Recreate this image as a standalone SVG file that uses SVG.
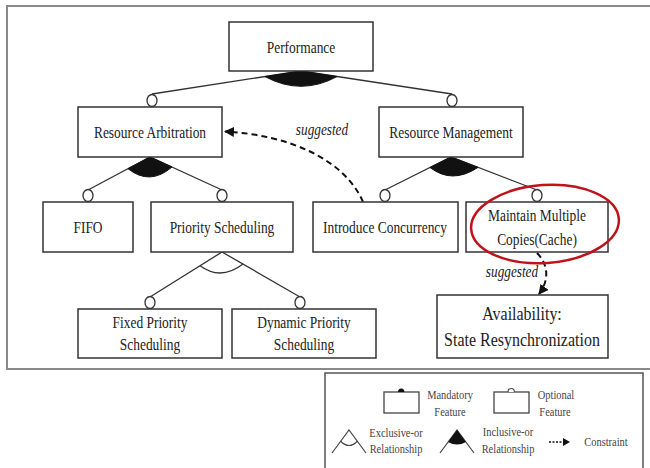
<svg xmlns="http://www.w3.org/2000/svg" width="650" height="468" viewBox="0 0 650 468">
  <style>
    .box { fill: #ffffff; stroke: #333333; stroke-width: 1.5; }
    .lbl { font-family: "Liberation Serif", "Times New Roman", serif; font-size: 17px; fill: #222222; text-anchor: middle; }
    .big { font-size: 19.5px; }
    .sug { font-family: "Liberation Serif", "Times New Roman", serif; font-size: 17px; font-style: italic; fill: #222222; text-anchor: middle; }
    .edge { fill: none; stroke: #333333; stroke-width: 1.3; }
    .opt { fill: #ffffff; stroke: #333333; stroke-width: 1.3; }
    .fan { fill: #111111; stroke: #111111; stroke-width: 1; }
    .dash { fill: none; stroke: #111111; stroke-width: 2; stroke-dasharray: 6 4; }
    .leg { font-family: "Liberation Serif", "Times New Roman", serif; font-size: 12px; fill: #444444; text-anchor: middle; }
    .legline { fill: none; stroke: #444444; stroke-width: 1.2; }
  </style>
  <defs>
    <marker id="arrow" viewBox="0 0 10 10" refX="9" refY="5" markerUnits="userSpaceOnUse" markerWidth="10" markerHeight="10" orient="auto">
      <path d="M0,0 L10,5 L0,10 Z" fill="#111111"/>
    </marker>
  </defs>

  <rect width="650" height="468" fill="#ffffff"/>

  <!-- outer frame of the feature model -->
  <path d="M650,6 H7 V369 H650" fill="none" stroke="#8a8a8a" stroke-width="2"/>

  <!-- connectors -->
  <g id="connectors">
    <!-- Performance -> Resource Arbitration / Resource Management (inclusive-or) -->
    <path class="edge" d="M152,94 L301,71 L452,94"/>
    <path class="fan" d="M301,71 L265,76.6 Q301,96 337,76.6 Z"/>
    <ellipse class="opt" cx="152" cy="100.5" rx="5" ry="6"/>
    <ellipse class="opt" cx="452" cy="100.5" rx="5" ry="6"/>

    <!-- Resource Arbitration -> FIFO / Priority Scheduling (inclusive-or) -->
    <path class="edge" d="M88,190 L150,157 L222,190"/>
    <path class="fan" d="M150,157 L128,168.7 Q150,186 172,167 Z"/>
    <ellipse class="opt" cx="88" cy="195.5" rx="5" ry="6"/>
    <ellipse class="opt" cx="222" cy="195.5" rx="5" ry="6"/>

    <!-- Resource Management -> Introduce Concurrency / Maintain Multiple Copies (inclusive-or) -->
    <path class="edge" d="M385,190 L451,157 L537,190"/>
    <path class="fan" d="M451,157 L430,167.5 Q452,184.5 478,167.4 Z"/>
    <ellipse class="opt" cx="385" cy="195.5" rx="5" ry="6"/>
    <ellipse class="opt" cx="537" cy="195.5" rx="5" ry="6"/>

    <!-- Priority Scheduling -> Fixed / Dynamic (exclusive-or) -->
    <path class="edge" d="M150,297 L222,252 L300,297"/>
    <path class="edge" d="M200,265.75 Q221,281 243,264"/>
    <ellipse class="opt" cx="150" cy="302.5" rx="5" ry="6"/>
    <ellipse class="opt" cx="300" cy="302.5" rx="5" ry="6"/>

    <!-- suggested constraints -->
    <path class="dash" d="M363,202 C345,160 290,135 225,131.5" marker-end="url(#arrow)"/>
    <text class="sug" transform="translate(322 135) scale(0.78 1)">suggested</text>
    <path class="dash" d="M537,253 C549,265 549,281 539,294" marker-end="url(#arrow)"/>
    <text class="sug" transform="translate(512 277) scale(0.78 1)">suggested</text>
  </g>

  <!-- feature nodes -->
  <g id="performance">
    <rect class="box" x="229" y="22" width="144" height="49"/>
    <text class="lbl" transform="translate(301 52.5) scale(0.79 1)">Performance</text>
  </g>
  <g id="resource-arbitration">
    <rect class="box" x="78" y="107" width="144" height="50"/>
    <text class="lbl" transform="translate(150 137.5) scale(0.79 1)">Resource Arbitration</text>
  </g>
  <g id="resource-management">
    <rect class="box" x="379" y="107" width="144" height="50"/>
    <text class="lbl" transform="translate(451 137.5) scale(0.79 1)">Resource Management</text>
  </g>
  <g id="fifo">
    <rect class="box" x="43" y="202" width="90" height="50"/>
    <text class="lbl" transform="translate(88 233) scale(0.79 1)">FIFO</text>
  </g>
  <g id="priority-scheduling">
    <rect class="box" x="151" y="202" width="142" height="50"/>
    <text class="lbl" transform="translate(222 233) scale(0.79 1)">Priority Scheduling</text>
  </g>
  <g id="introduce-concurrency">
    <rect class="box" x="313" y="202" width="145" height="50"/>
    <text class="lbl" transform="translate(385 233) scale(0.79 1)">Introduce Concurrency</text>
  </g>
  <g id="maintain-multiple-copies">
    <rect class="box" x="466" y="202" width="142" height="50"/>
    <text class="lbl" transform="translate(537 221) scale(0.79 1)">Maintain Multiple</text>
    <text class="lbl" transform="translate(537 244.5) scale(0.79 1)">Copies(Cache)</text>
  </g>
  <g id="fixed-priority-scheduling">
    <rect class="box" x="78" y="309" width="144" height="49"/>
    <text class="lbl" transform="translate(150 327.5) scale(0.79 1)">Fixed Priority</text>
    <text class="lbl" transform="translate(150 349.5) scale(0.79 1)">Scheduling</text>
  </g>
  <g id="dynamic-priority-scheduling">
    <rect class="box" x="232" y="309" width="144" height="49"/>
    <text class="lbl" transform="translate(304 327.5) scale(0.79 1)">Dynamic Priority</text>
    <text class="lbl" transform="translate(304 349.5) scale(0.79 1)">Scheduling</text>
  </g>
  <g id="availability">
    <rect class="box" x="437" y="295" width="171" height="63"/>
    <text class="lbl big" transform="translate(522 319.5) scale(0.82 1)">Availability:</text>
    <text class="lbl big" transform="translate(522 346) scale(0.82 1)">State Resynchronization</text>
  </g>

  <!-- highlight around the cache feature -->
  <ellipse cx="545" cy="224" rx="74" ry="39" transform="rotate(-4 545 224)" fill="none" stroke="#c0121c" stroke-width="2.5"/>

  <!-- legend -->
  <g id="legend">
    <rect x="325" y="373" width="318" height="100" fill="#ffffff" stroke="#555555" stroke-width="1.5"/>
    <rect x="384" y="392" width="35" height="21" fill="none" stroke="#444444" stroke-width="1.3"/>
    <path d="M398,392 A3.2,3.5 0 1 1 404.4,392 Z" fill="#111111"/>
    <text class="leg" transform="translate(450 399) scale(0.87 1)">Mandatory</text>
    <text class="leg" transform="translate(450 416) scale(0.87 1)">Feature</text>

    <rect x="494" y="392" width="35" height="21" fill="none" stroke="#444444" stroke-width="1.3"/>
    <path d="M508,392 A3.2,3.5 0 1 1 514.4,392" fill="#ffffff" stroke="#444444" stroke-width="1.1"/>
    <text class="leg" transform="translate(556 399) scale(0.87 1)">Optional</text>
    <text class="leg" transform="translate(555 416) scale(0.87 1)">Feature</text>

    <path class="legline" d="M332,453 L349,430 L366,453"/>
    <path class="legline" d="M340.5,441 Q349,450 357.5,441"/>
    <text class="leg" transform="translate(396 436.5) scale(0.87 1)">Exclusive-or</text>
    <text class="leg" transform="translate(396 452.5) scale(0.87 1)">Relationship</text>

    <path class="legline" d="M440,453 L457,430 L474,453"/>
    <path d="M457,430 L448,442 Q457,447 466,442 Z" fill="#111111"/>
    <text class="leg" transform="translate(508 435.5) scale(0.87 1)">Inclusive-or</text>
    <text class="leg" transform="translate(508 452.5) scale(0.87 1)">Relationship</text>

    <path d="M549,442 L564,442" stroke="#111111" stroke-width="1.6" stroke-dasharray="2 1.5"/>
    <path d="M563,438 L570,442 L563,446 Z" fill="#111111"/>
    <text class="leg" transform="translate(606 446) scale(0.87 1)">Constraint</text>
  </g>
</svg>
